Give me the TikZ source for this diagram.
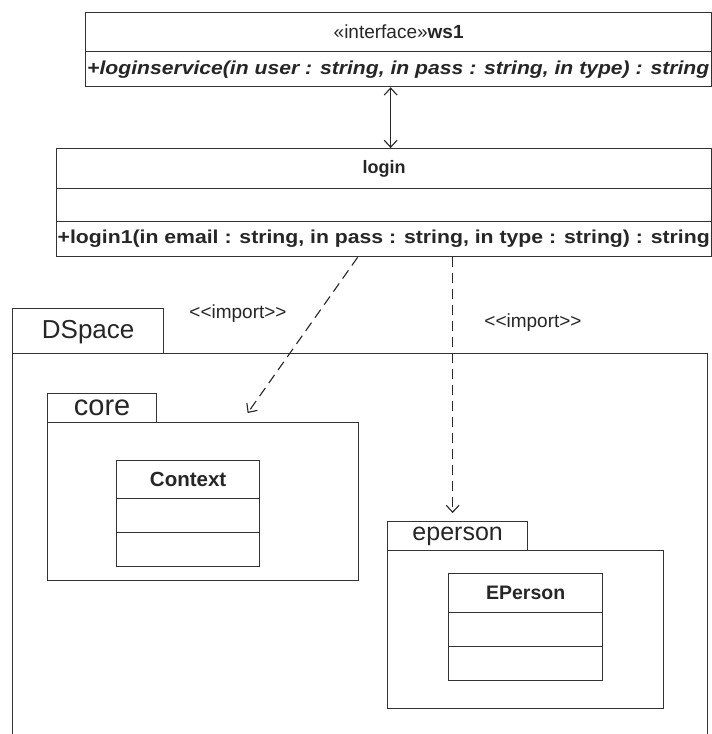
\documentclass[tikz,border=0pt]{standalone}
\usepackage{fontspec}
\setmainfont{Liberation Sans}
\usetikzlibrary{arrows.meta}
\begin{document}
\begin{tikzpicture}[x=1pt,y=-1pt,
  box/.style={draw=black!80, line width=1.3pt, rectangle, inner sep=0pt, anchor=north west, fill=none},
  conn/.style={draw=black!85, line width=1.1pt},
  head/.style={-{Straight Barb[length=7pt,width=13pt]}},
  dsh/.style={dash pattern=on 10pt off 6pt},
  txt/.style={inner sep=0pt, text=black!85}]
\useasboundingbox (0,0) rectangle (712,734);
\fill[white] (0,0) rectangle (712,734);

% ws1 interface
\node[box, minimum width=626pt, minimum height=39pt] (ws1h) at (85,12) {};
\node[box, minimum width=626pt, minimum height=35pt] (ws1o) at (85,51) {};
\node[txt, font=\fontsize{19}{22}\selectfont] (ws1t) at (ws1h.center) {«interface»\textbf{ws1}};
\node[txt, anchor=west] (ws1m) at ([xshift=2pt]ws1o.west) {\resizebox*{622pt}{17.5pt}{\bfseries\itshape +loginservice(in user : string, in pass : string, in type) : string}};

% login class
\node[box, minimum width=655pt, minimum height=40pt] (logh) at (56,148) {};
\node[box, minimum width=655pt, minimum height=33pt] (loga) at (56,188) {};
\node[box, minimum width=655pt, minimum height=35pt] (logo) at (56,221) {};
\node[txt, font=\fontsize{18}{21}\selectfont\bfseries] (logt) at (logh.center) {login};
\node[txt, anchor=west] (logm) at ([xshift=1.5pt]logo.west) {\resizebox*{652pt}{17.5pt}{\bfseries +login1(in email : string, in pass : string, in type : string) : string}};

% DSpace package
\node[box, minimum width=151pt, minimum height=45pt] (dstab) at (12,308) {};
\node[box, minimum width=695pt, minimum height=400pt] (dsbody) at (12,353) {};
\node[txt, font=\fontsize{26}{29}\selectfont] (dst) at ([yshift=-1pt]dstab.center) {DSpace};

% core package
\node[box, minimum width=109pt, minimum height=29pt] (coretab) at (47,393) {};
\node[box, minimum width=311pt, minimum height=158pt] (corebody) at (47,422) {};
\node[txt, font=\fontsize{29}{32}\selectfont] (coret) at (coretab.center) {core};
\node[box, minimum width=143pt, minimum height=38pt] (ctxh) at (116,460) {};
\node[box, minimum width=143pt, minimum height=34pt] (ctxa) at (116,498) {};
\node[box, minimum width=143pt, minimum height=34pt] (ctxo) at (116,532) {};
\node[txt, font=\fontsize{20.5}{23}\selectfont\bfseries] (ctxt) at (ctxh.center) {Context};

% eperson package
\node[box, minimum width=140pt, minimum height=29pt] (eptab) at (387,521) {};
\node[box, minimum width=276pt, minimum height=158pt] (epbody) at (387,550) {};
\node[txt, font=\fontsize{25}{28}\selectfont] (ept) at (eptab.center) {eperson};
\node[box, minimum width=154pt, minimum height=39pt] (eph) at (448,573) {};
\node[box, minimum width=154pt, minimum height=34pt] (epa) at (448,612) {};
\node[box, minimum width=154pt, minimum height=34pt] (epo) at (448,646) {};
\node[txt, font=\fontsize{19.5}{22}\selectfont\bfseries] (ephtxt) at (eph.center) {EPerson};

% connectors
\coordinate (a1) at ([xshift=-8pt]ws1o.south);
\draw[conn, {Straight Barb[length=7pt,width=13pt]}-{Straight Barb[length=7pt,width=13pt]}] (a1) -- (a1 |- logh.north);

\coordinate (d1s) at ([xshift=-26.5pt]logo.south);
\coordinate (d1e) at ([xshift=44.5pt,yshift=9pt]corebody.north);
\draw[conn, dsh, head] (d1s) -- (d1e);

\coordinate (d2s) at ([xshift=68.5pt]logo.south);
\coordinate (d2e) at ([yshift=8pt]d2s |- eptab.north);
\draw[conn, dsh, head] (d2s) -- (d2e);

\node[txt, font=\fontsize{19}{22}\selectfont] (imp1) at (238,314) {<{}<import>{}>};
\node[txt, font=\fontsize{19}{22}\selectfont] (imp2) at (533,323) {<{}<import>{}>};
\end{tikzpicture}
\end{document}
